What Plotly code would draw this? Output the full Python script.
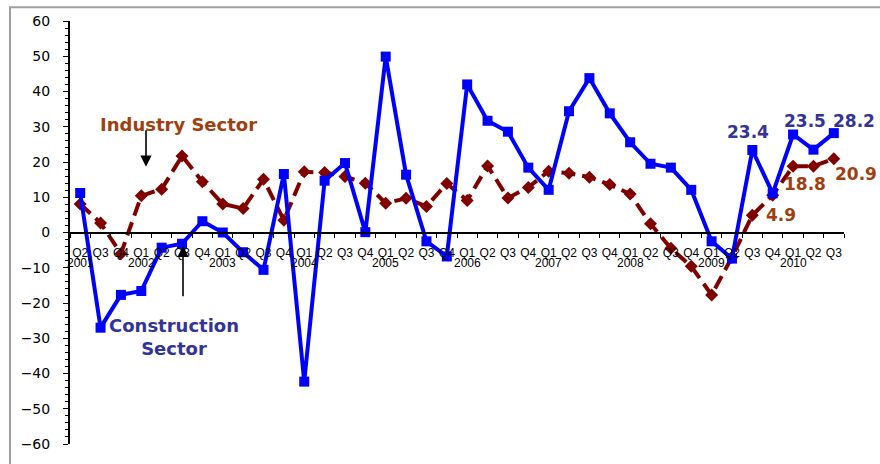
import plotly.graph_objects as go

quarters = ["Q2", "Q3", "Q4",
            "Q1", "Q2", "Q3", "Q4",
            "Q1", "Q2", "Q3", "Q4",
            "Q1", "Q2", "Q3", "Q4",
            "Q1", "Q2", "Q3", "Q4",
            "Q1", "Q2", "Q3", "Q4",
            "Q1", "Q2", "Q3", "Q4",
            "Q1", "Q2", "Q3", "Q4",
            "Q1", "Q2", "Q3", "Q4",
            "Q1", "Q2", "Q3"]
years = [2001, 2001, 2001,
         2002, 2002, 2002, 2002,
         2003, 2003, 2003, 2003,
         2004, 2004, 2004, 2004,
         2005, 2005, 2005, 2005,
         2006, 2006, 2006, 2006,
         2007, 2007, 2007, 2007,
         2008, 2008, 2008, 2008,
         2009, 2009, 2009, 2009,
         2010, 2010, 2010]
categories = [f"{q} {y}" for q, y in zip(quarters, years)]

construction = [11.2, -27.0, -17.7, -16.6, -4.3, -3.2, 3.2, 0.0, -5.6, -10.6, 16.6,
                -42.3, 14.7, 19.7, 0.1, 49.9, 16.4, -2.5, -6.8,
                42.0, 31.7, 28.6, 18.4, 12.1, 34.4, 43.8, 33.8,
                25.6, 19.5, 18.4, 12.1, -2.5, -7.4, 23.4, 11.1,
                27.8, 23.5, 28.2]
industry = [8.1, 2.7, -6.0, 10.4, 12.3, 21.7, 14.4, 8.1, 6.8, 15.1, 3.5,
            17.2, 17.0, 15.9, 14.0, 8.3, 9.7, 7.4, 13.9,
            9.1, 18.9, 9.8, 12.8, 17.4, 16.8, 15.7, 13.6,
            10.9, 2.5, -4.5, -9.6, -17.7, -7.0, 4.9, 10.6,
            18.8, 18.8, 20.9]

BLUE = "#0000FF"
DARKRED = "#800000"
LBLUE = "#333399"
LBROWN = "#A04010"

fig = go.Figure()
fig.add_trace(go.Scatter(
    x=categories, y=industry, mode="lines+markers", name="Industry Sector",
    line=dict(color=DARKRED, width=4, dash="14px,7px"),
    marker=dict(symbol="diamond", size=10, color=DARKRED),
))
fig.add_trace(go.Scatter(
    x=categories, y=construction, mode="lines+markers", name="Construction Sector",
    line=dict(color=BLUE, width=4),
    marker=dict(symbol="square", size=10, color=BLUE),
))

ann = []
# year labels under the quarter ticks
for i, (q, y) in enumerate(zip(quarters, years)):
    if i == 0 or q == "Q1":
        ann.append(dict(x=categories[i], xref="x", y=0.4286, yref="paper",
                        text=str(y), showarrow=False,
                        font=dict(family="Liberation Sans, Arial", size=12, color="black"),
                        xanchor="center", yanchor="middle"))

def lab(text, x, y, color, size=17):
    ann.append(dict(x=x, y=y, xref="paper", yref="paper", text=f"<b>{text}</b>",
                    showarrow=False, xanchor="center", yanchor="middle",
                    font=dict(family="DejaVu Sans", size=size, color=color)))

lab("Industry Sector", 0.1408, 0.7564, LBROWN, 18)
lab("Construction<br>Sector", 0.1344, 0.2529, LBLUE, 18)
lab("23.4", 0.876, 0.7368, LBLUE)
lab("23.5", 0.9493, 0.7642, LBLUE)
lab("28.2", 1.0129, 0.7642, LBLUE)
lab("18.8", 0.9496, 0.6136, LBROWN)
lab("20.9", 1.0155, 0.6393, LBROWN)
lab("4.9", 0.9186, 0.5403, LBROWN)

# arrows
ann.append(dict(x=0.0982, y=0.6557, xref="paper", yref="paper", text="",
                showarrow=True, ax=0, ay=-38, arrowhead=2, arrowsize=1.4,
                arrowwidth=1.6, arrowcolor="black"))
ann.append(dict(x=0.146, y=0.4684, xref="paper", yref="paper", text="",
                showarrow=True, ax=0, ay=52, arrowhead=2, arrowsize=1.4,
                arrowwidth=1.6, arrowcolor="black"))

fig.update_layout(
    width=880, height=464,
    margin=dict(l=70, r=36, t=21, b=16),
    paper_bgcolor="white", plot_bgcolor="white",
    showlegend=False,
    annotations=ann,
    shapes=[dict(type="rect", xref="paper", yref="paper",
                 x0=-0.0775, x1=1.08, y0=-0.06, y1=1.0328,
                 line=dict(color="#A0A0A0", width=2), layer="below")],
    xaxis=dict(
        type="category", range=[-0.5, 37.5],
        tickmode="array", tickvals=categories, ticktext=quarters,
        tickson="boundaries", ticks="outside", ticklen=4, tickcolor="black",
        showline=True, linecolor="black", linewidth=2,
        showgrid=False, zeroline=False,
        anchor="free", position=0.5,
        tickfont=dict(family="Liberation Sans, Arial", size=12, color="black"),
        tickangle=0, ticklabelstandoff=9,
    ),
    yaxis=dict(
        range=[-60, 60], dtick=10, tick0=0,
        ticks="outside", ticklen=5, tickcolor="black",
        minor=dict(dtick=2, ticks="outside", ticklen=3, tickcolor="black"),
        showline=True, linecolor="black", linewidth=2,
        showgrid=False, zeroline=False,
        tickfont=dict(family="DejaVu Sans", size=14, color="black"),
        ticklabelstandoff=10,
    ),
)

fig.write_html("out.html", config={"displayModeBar": False},
               post_script="document.body.style.margin='0';")
